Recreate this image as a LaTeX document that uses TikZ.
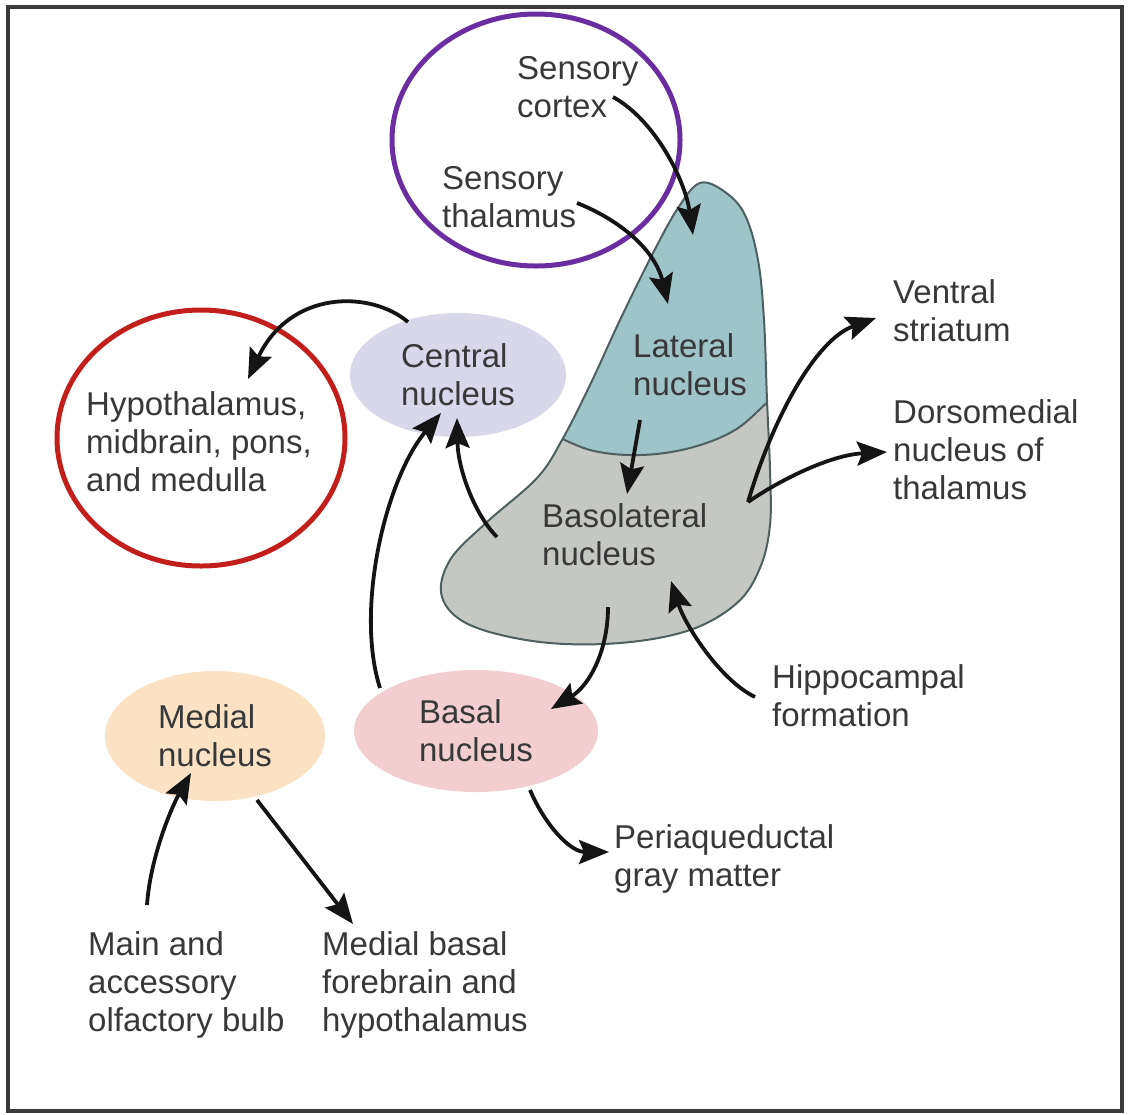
\documentclass[tikz,border=0pt]{standalone}
\usepackage{fontspec}
\setmainfont{Liberation Sans}
\usetikzlibrary{arrows.meta,shapes.geometric}

\definecolor{txt}{HTML}{383838}
\definecolor{arrowc}{HTML}{141414}
\definecolor{frame}{HTML}{3A3A3A}
\definecolor{ringpurple}{HTML}{6A2EA0}
\definecolor{ringred}{HTML}{C21F1C}
\definecolor{latfill}{HTML}{9EC4C8}
\definecolor{blafill}{HTML}{C4C7C2}
\definecolor{amyline}{HTML}{4E5F60}
\definecolor{cenfill}{HTML}{D9D8EB}
\definecolor{medfill}{HTML}{FBE2C5}
\definecolor{basfill}{HTML}{F2CED1}

% outline of the amygdala (lateral + basolateral parts)
\def\amygdala{plot[smooth cycle, tension=0.6] coordinates {
  (700,183) (725,192) (745,215) (758,260) (764,320) (767,400) (770,470)
  (770,525) (760,568) (737,603) (690,630) (620,643) (540,642) (470,625)
  (442,597) (450,560) (487,522) (537,478) (562,440) (590,385) (620,320)
  (652,255) (678,208)}}
% border between the lateral and the basolateral nucleus
\def\latborder{plot[smooth, tension=0.6] coordinates {
  (545,430) (590,450) (640,455) (690,448) (735,430) (770,400) (790,385)}}

\begin{document}
\begin{tikzpicture}[x=1pt,y=-1pt,
  lbl/.style={anchor=north west, inner sep=0pt, align=left, text=txt,
              font=\fontsize{33}{38}\selectfont},
  nuc/.style={ellipse, inner sep=0pt, align=left, text=txt,
              font=\fontsize{33}{38}\selectfont},
  ring/.style={ellipse, draw, line width=5pt, inner sep=0pt},
  fib/.style={line width=3.8pt, draw=arrowc,
              -{Stealth[length=30pt,width=24pt,inset=5pt]}}]

\useasboundingbox (0,0) rectangle (1129,1114);
\draw[frame, line width=3.5pt] (8,7) rectangle (1122,1111);

% amygdala body
\fill[blafill] \amygdala;
\begin{scope}
  \clip \amygdala;
  \fill[latfill] \latborder -- (800,150) -- (540,150) -- cycle;
  \draw[amyline, line width=2pt] \latborder;
\end{scope}
\draw[amyline, line width=2pt] \amygdala;

% rings
\node[ring, draw=ringpurple, minimum width=288pt, minimum height=252pt] (sensring) at (536,140) {};
\node[ring, draw=ringred, minimum width=288pt, minimum height=256pt] (hyporing) at (201,438) {};

% nuclei drawn as ellipses
\node[nuc, fill=cenfill, minimum width=216pt, minimum height=124pt] (central) at (458,375) {Central\\nucleus};
\node[nuc, fill=medfill, minimum width=220pt, minimum height=130pt] (medial) at (215,736) {Medial\\nucleus};
\node[nuc, fill=basfill, minimum width=244pt, minimum height=122pt] (basal) at (476,731) {Basal\\nucleus};

% labels
\node[lbl] (scortex) at (517,56) {Sensory\\cortex};
\node[lbl] (sthal) at (442,166) {Sensory\\thalamus};
\node[lbl] (lateral) at (633,333) {Lateral\\nucleus};
\node[lbl] (hypo) at (86,391) {Hypothalamus,\\midbrain, pons,\\and medulla};
\node[lbl] (ventral) at (893,279) {Ventral\\striatum};
\node[lbl] (dorso) at (893,399) {Dorsomedial\\nucleus of\\thalamus};
\node[lbl] (bla) at (542,503) {Basolateral\\nucleus};
\node[lbl] (hippo) at (772,664) {Hippocampal\\formation};
\node[lbl] (pag) at (614,824) {Periaqueductal\\gray matter};
\node[lbl] (olf) at (88,931) {Main and\\accessory\\olfactory bulb};
\node[lbl] (mbf) at (322,931) {Medial basal\\forebrain and\\hypothalamus};

% arrow end points
\coordinate (cortexOut) at (613,97);
\coordinate (latIn1) at (693,235);
\coordinate (thalOut) at (577,203);
\coordinate (latIn2) at (668,304);
\coordinate (latOut) at (640,420);
\coordinate (blaIn) at (627,494);
\coordinate (blaOutC) at (497,537);
\coordinate (cenIn1) at (457,418);
\coordinate (basOutC) at (380,688);
\coordinate (cenIn2) at (441,413);
\coordinate (cenOut) at (408,322);
\coordinate (hypoIn) at (248,379);
\coordinate (blaOutR) at (748,502);
\coordinate (ventIn) at (876,318);
\coordinate (dorsoIn) at (887,452);
\coordinate (blaOutB) at (608,607);
\coordinate (basIn) at (551,709);
\coordinate (hippoOut) at (755,697);
\coordinate (blaIn2) at (671,581);
\coordinate (basOutP) at (530,790);
\coordinate (pagIn) at (609,852);
\coordinate (olfOut) at (147,905);
\coordinate (medIn) at (191,773);
\coordinate (medOut) at (257,800);
\coordinate (mbfIn) at (353,924);

% connections
\draw[fib] (cortexOut) .. controls (655,120) and (685,180) .. (latIn1);
\draw[fib] (thalOut) .. controls (620,220) and (655,250) .. (latIn2);
\draw[fib] (latOut) -- (blaIn);
\draw[fib] (blaOutC) .. controls (475,515) and (458,470) .. (cenIn1);
\draw[fib] (basOutC) .. controls (355,610) and (385,480) .. (cenIn2);
\draw[fib] (cenOut) .. controls (370,290) and (290,290) .. (hypoIn);
\draw[fib] (blaOutR) .. controls (772,420) and (815,340) .. (ventIn);
\draw[fib] (blaOutR) .. controls (780,480) and (830,455) .. (dorsoIn);
\draw[fib] (blaOutB) .. controls (608,650) and (590,685) .. (basIn);
\draw[fib] (hippoOut) .. controls (720,680) and (685,625) .. (blaIn2);
\draw[fib] (basOutP) .. controls (545,825) and (570,852) .. (pagIn);
\draw[fib] (olfOut) .. controls (150,860) and (170,810) .. (medIn);
\draw[fib] (medOut) -- (mbfIn);

\end{tikzpicture}
\end{document}
